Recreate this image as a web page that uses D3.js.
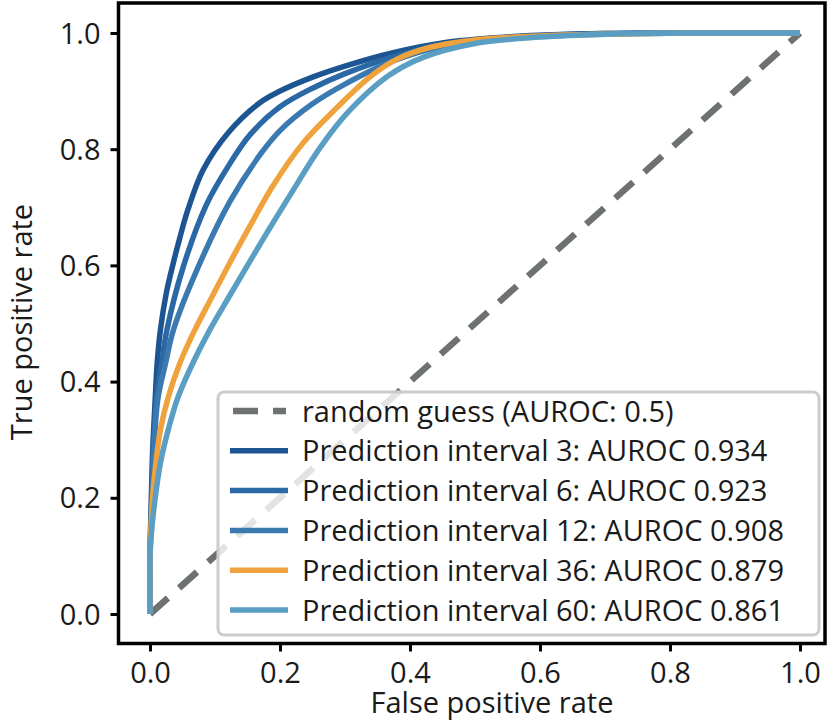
<!DOCTYPE html>
<html>
<head>
<meta charset="utf-8">
<script src="https://cdn.jsdelivr.net/npm/d3@7"></script>
<style>
  html, body { margin: 0; padding: 0; background: #fff; }
  svg { display: block; }
  text { font-family: "Open Sans", "Noto Sans", sans-serif; fill: #1a1a1a; }
</style>
</head>
<body>
<svg id="chart" width="828" height="721"></svg>
<script>
// ROC curves (false positive rate, true positive rate) per prediction interval
const roc3 = [[0,0],[0,0.1],[0.002,0.2],[0.004,0.28],[0.008,0.37],[0.011,0.432],[0.016,0.489],[0.025,0.552],[0.036,0.605],[0.046,0.648],[0.058,0.695],[0.082,0.765],[0.12,0.828],[0.169,0.88],[0.2,0.9],[0.25,0.924],[0.3,0.943],[0.374,0.966],[0.457,0.984],[0.56,0.994],[0.7,0.999],[0.85,1],[1,1]];
const roc6 = [[0,0],[0,0.1],[0.003,0.2],[0.005,0.28],[0.01,0.37],[0.018,0.432],[0.026,0.489],[0.051,0.597],[0.087,0.705],[0.12,0.77],[0.154,0.825],[0.2,0.873],[0.25,0.905],[0.3,0.93],[0.374,0.959],[0.457,0.981],[0.56,0.993],[0.7,0.999],[0.85,1],[1,1]];
const roc12 = [[0,0],[0,0.1],[0.003,0.2],[0.006,0.28],[0.012,0.37],[0.024,0.432],[0.036,0.489],[0.074,0.597],[0.123,0.71],[0.169,0.79],[0.2,0.832],[0.25,0.878],[0.3,0.912],[0.374,0.952],[0.457,0.979],[0.56,0.992],[0.7,0.998],[0.85,1],[1,1]];
const roc36 = [[0,0],[0,0.1],[0.004,0.2],[0.009,0.26],[0.016,0.317],[0.028,0.373],[0.046,0.432],[0.069,0.489],[0.095,0.545],[0.123,0.605],[0.155,0.67],[0.188,0.735],[0.235,0.81],[0.288,0.872],[0.338,0.924],[0.38,0.955],[0.43,0.975],[0.5,0.988],[0.6,0.995],[0.7,0.998],[0.85,1],[1,1]];
const roc60 = [[0,0],[0,0.1],[0.003,0.15],[0.008,0.2],[0.016,0.26],[0.028,0.317],[0.043,0.373],[0.066,0.432],[0.092,0.489],[0.12,0.543],[0.15,0.6],[0.182,0.66],[0.215,0.72],[0.262,0.803],[0.305,0.864],[0.365,0.925],[0.42,0.958],[0.5,0.982],[0.6,0.993],[0.7,0.998],[0.85,1],[1,1]];

const seriesNames = ["Prediction interval 3: AUROC 0.934", "Prediction interval 6: AUROC 0.923",
  "Prediction interval 12: AUROC 0.908", "Prediction interval 36: AUROC 0.879", "Prediction interval 60: AUROC 0.861"];
const seriesColors = ["#1d5592", "#2a69a5", "#3a7ab0", "#f0a23c", "#5a9ec4"];
const seriesData = [roc3, roc6, roc12, roc36, roc60];

const diagonal = [[0,0],[1,1]];
const diagonalName = "random guess (AUROC: 0.5)";
const tickValues = [0, 0.2, 0.4, 0.6, 0.8, 1.0];

const svg = d3.select("#chart");
const box = { left: 118.5, right: 825, top: 3, bottom: 643.5 };

const x = d3.scaleLinear().domain([-0.0485, 1.0385]).range([box.left, box.right]);
const y = d3.scaleLinear().domain([-0.0508, 1.0516]).range([box.bottom, box.top]);

const FS = 29;

// reference diagonal
const line = d3.line().x(d => x(d[0])).y(d => y(d[1]));
svg.append("path")
  .datum(diagonal)
  .attr("d", line)
  .attr("fill", "none")
  .attr("stroke", "#6e726f")
  .attr("stroke-width", 6.5)
  .attr("stroke-dasharray", "24 15");

// ROC curves
const curve = d3.line().x(d => x(d[0])).y(d => y(d[1])).curve(d3.curveCatmullRom.alpha(0.5));
seriesData.forEach((data, i) => {
  svg.append("path")
    .datum(data)
    .attr("d", curve)
    .attr("fill", "none")
    .attr("stroke", seriesColors[i])
    .attr("stroke-width", 5.5)
    .attr("stroke-linejoin", "round");
});

// axes frame
svg.append("rect")
  .attr("x", box.left).attr("y", box.top)
  .attr("width", box.right - box.left).attr("height", box.bottom - box.top)
  .attr("fill", "none").attr("stroke", "#000").attr("stroke-width", 3.5);

// x axis ticks and labels
const xAxis = d3.axisBottom(x).tickValues(tickValues).tickSize(8).tickPadding(10)
  .tickFormat(d3.format(".1f"));
const gx = svg.append("g").attr("transform", `translate(0,${box.bottom})`).call(xAxis);
gx.select(".domain").remove();
gx.selectAll(".tick line").attr("stroke", "#000").attr("stroke-width", 3);
gx.selectAll(".tick text").attr("font-size", FS).attr("fill", "#1a1a1a")
  .attr("font-family", "Open Sans").attr("dy", null).attr("y", 39.5);

// y axis ticks and labels
const yAxis = d3.axisLeft(y).tickValues(tickValues).tickSize(8).tickPadding(10)
  .tickFormat(d3.format(".1f"));
const gy = svg.append("g").attr("transform", `translate(${box.left},0)`).call(yAxis);
gy.select(".domain").remove();
gy.selectAll(".tick line").attr("stroke", "#000").attr("stroke-width", 3);
gy.selectAll(".tick text").attr("font-size", FS).attr("fill", "#1a1a1a")
  .attr("font-family", "Open Sans").attr("x", -18).attr("dy", "0.35em");

// axis titles
svg.append("text")
  .attr("x", 492).attr("y", 713)
  .attr("text-anchor", "middle")
  .attr("font-size", FS)
  .text("False positive rate");
svg.append("text")
  .attr("transform", "translate(32,322) rotate(-90)")
  .attr("text-anchor", "middle")
  .attr("font-size", FS)
  .text("True positive rate");

// legend
const legend = svg.append("g");
legend.append("rect")
  .attr("x", 218).attr("y", 392).attr("width", 601).attr("height", 243)
  .attr("rx", 6).attr("ry", 6)
  .attr("fill", "#fff").attr("fill-opacity", 0.8)
  .attr("stroke", "#cccccc").attr("stroke-width", 3);

const entries = [{ name: diagonalName, color: "#6e726f", dashed: true }]
  .concat(seriesNames.map((n, i) => ({ name: n, color: seriesColors[i], dashed: false })));
const rowY = i => 411 + 39.8 * i;
entries.forEach((e, i) => {
  const yy = rowY(i);
  legend.append("line")
    .attr("x1", e.dashed ? 233 : 230).attr("x2", e.dashed ? 286 : 288)
    .attr("y1", yy).attr("y2", yy)
    .attr("stroke", e.color)
    .attr("stroke-width", e.dashed ? 6.5 : 5.5)
    .attr("stroke-dasharray", e.dashed ? "25 15" : null);
  legend.append("text")
    .attr("x", 302).attr("y", yy + 10.5)
    .attr("font-size", FS)
    .text(e.name);
});
</script>
</body>
</html>
